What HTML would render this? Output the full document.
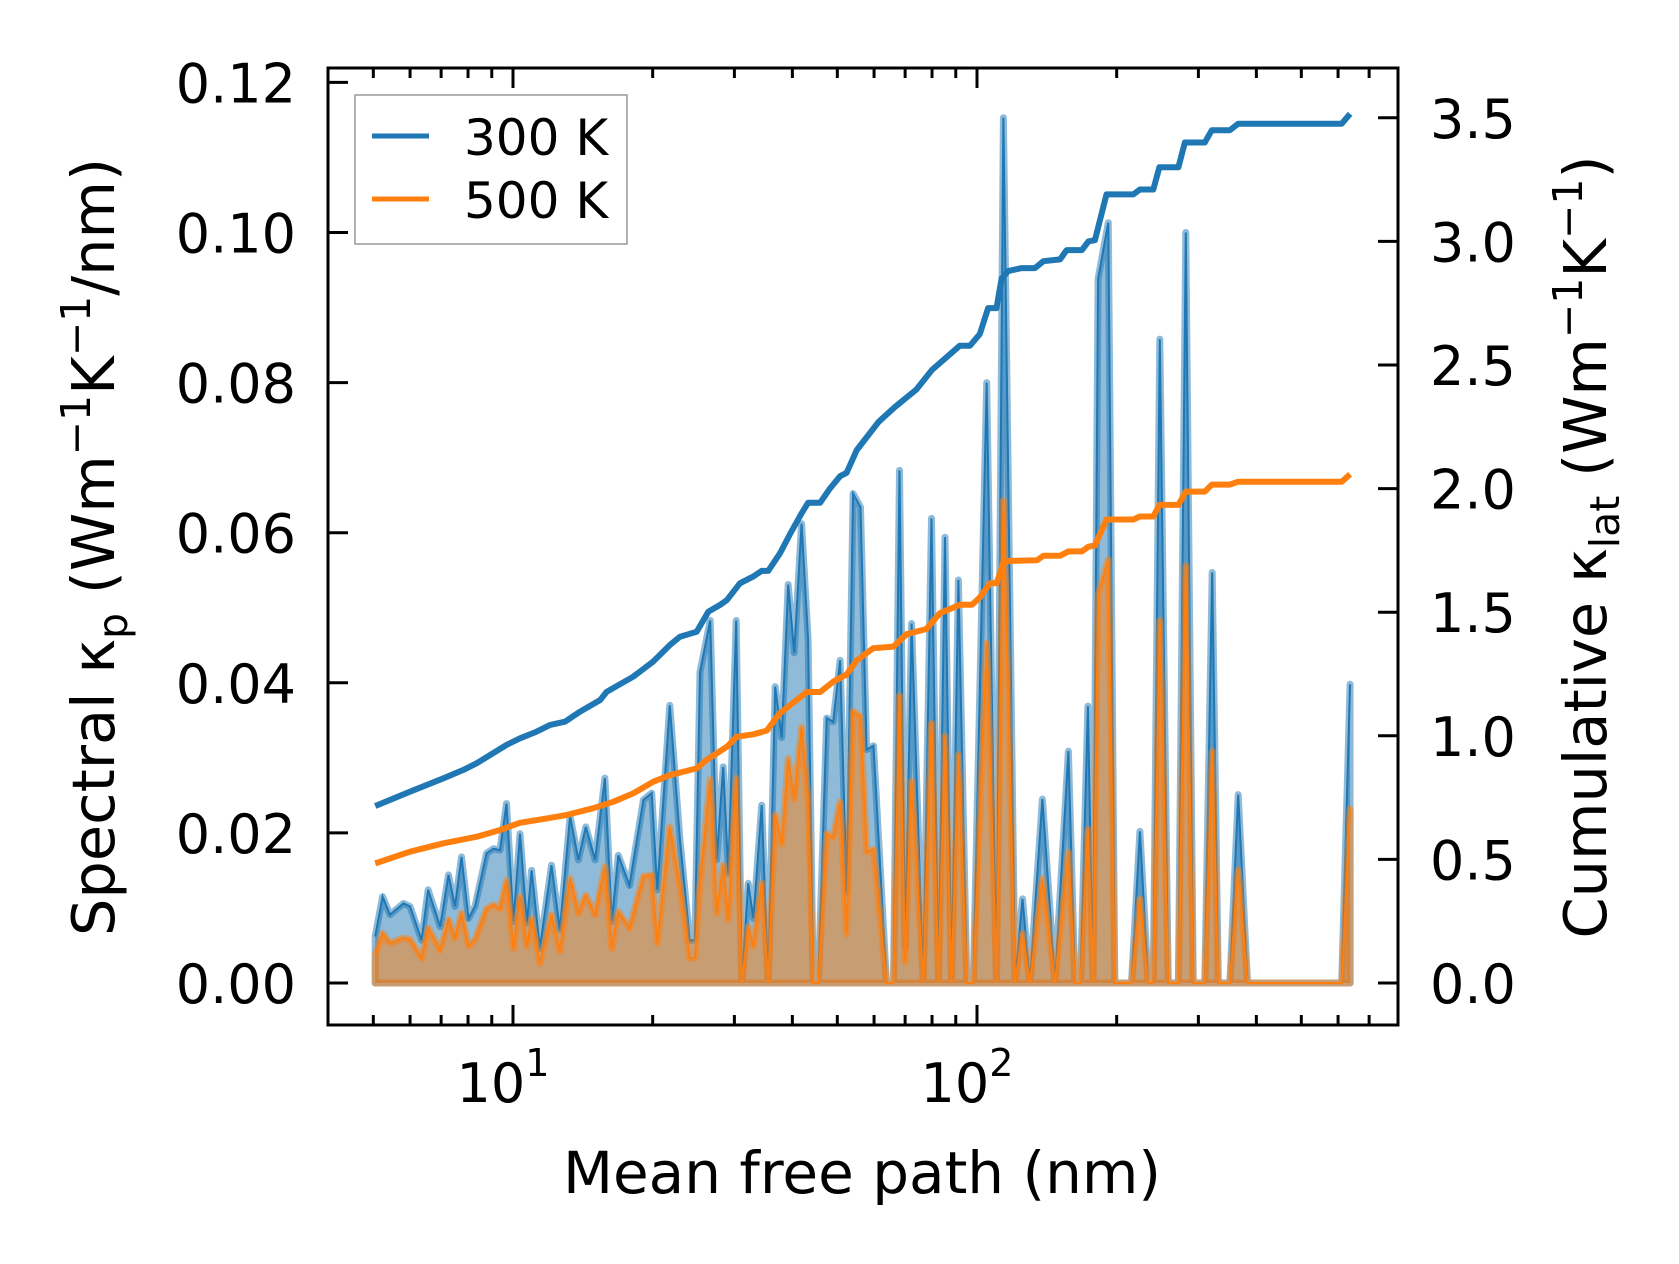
<!DOCTYPE html>
<html><head><meta charset="utf-8"><style>
html,body{margin:0;padding:0;background:#fff;}
svg{display:block;font-family:"DejaVu Sans","Liberation Sans",sans-serif;}
</style></head><body>
<svg id="chart" width="1679" height="1264" viewBox="0 0 1679 1264" xmlns="http://www.w3.org/2000/svg">
<rect x="0" y="0" width="1679" height="1264" fill="#fff"/>
<g id="marks"></g>
<g id="axes"></g>
<text x="862" y="1193" font-size="58" text-anchor="middle">Mean free path (nm)</text>
<text transform="translate(114,547) rotate(-90)" font-size="59" text-anchor="middle">Spectral κ<tspan font-size="41" dy="13">p</tspan><tspan dy="-13"> (Wm</tspan><tspan font-size="41" dy="-24">−1</tspan><tspan dy="24">K</tspan><tspan font-size="41" dy="-24">−1</tspan><tspan dy="24">/nm)</tspan></text>
<text transform="translate(1606,547) rotate(-90)" font-size="59" text-anchor="middle">Cumulative κ<tspan font-size="41" dy="13">lat</tspan><tspan dy="-13"> (Wm</tspan><tspan font-size="41" dy="-24">−1</tspan><tspan dy="24">K</tspan><tspan font-size="41" dy="-24">−1</tspan><tspan dy="24">)</tspan></text>
<g>
<rect x="355" y="95" width="272" height="149" fill="#fff" stroke="#999" stroke-width="1.5"/>
<g>
<line x1="372" y1="136" x2="429" y2="136" stroke="#1f77b4" stroke-width="5"/>
<text x="464" y="155" font-size="50">300 K</text></g>
<g>
<line x1="372" y1="199" x2="429" y2="199" stroke="#ff7f0e" stroke-width="5"/>
<text x="464" y="218" font-size="50">500 K</text></g>
</g>
</svg>
<script>
// log10 of mean free path (nm) for spectral samples
const logMfp = [0.703,0.719,0.735,0.764,0.778,0.803,0.817,0.843,0.861,0.875,0.889,0.904,0.918,0.943,0.958,0.972,0.986,1.001,1.015,1.030,1.040,1.058,1.083,1.101,1.123,1.141,1.157,1.177,1.198,1.213,1.227,1.251,1.281,1.299,1.311,1.338,1.360,1.381,1.392,1.403,1.425,1.439,1.453,1.464,1.481,1.493,1.507,1.518,1.536,1.550,1.565,1.579,1.593,1.606,1.622,1.636,1.647,1.658,1.676,1.690,1.705,1.719,1.733,1.749,1.762,1.777,1.805,1.820,1.833,1.845,1.859,1.884,1.902,1.917,1.931,1.945,1.960,1.978,1.992,2.021,2.042,2.057,2.082,2.098,2.114,2.141,2.168,2.197,2.211,2.223,2.239,2.250,2.261,2.283,2.297,2.333,2.351,2.369,2.380,2.394,2.412,2.434,2.450,2.466,2.491,2.507,2.520,2.545,2.563,2.583,2.786,2.804];
const spec300 = [0.0062,0.0115,0.0091,0.0106,0.0102,0.0057,0.0124,0.0075,0.0144,0.0102,0.0168,0.0086,0.0102,0.0173,0.0179,0.0177,0.0239,0.0082,0.0199,0.0080,0.0150,0.0046,0.0157,0.0071,0.0222,0.0164,0.0208,0.0164,0.0273,0.0082,0.0170,0.0130,0.0244,0.0253,0.0124,0.0370,0.0190,0.0057,0.0057,0.0414,0.0483,0.0164,0.0288,0.0146,0.0483,0,0.0133,0.0086,0.0237,0,0.0395,0.0327,0.0531,0.0440,0.0612,0.0458,0,0,0.0353,0.0348,0.0430,0.0121,0.0652,0.0634,0.0311,0.0316,0,0,0.0683,0.0047,0.0479,0,0.0619,0,0.0594,0,0.0537,0,0,0.0800,0,0.1153,0,0.0112,0,0.0245,0,0.0309,0,0,0.0369,0,0.0938,0.1013,0,0,0.0202,0,0,0.0858,0,0,0.1000,0,0,0.0547,0,0,0.0251,0,0,0.0398];
const spec500 = [0.0037,0.0066,0.0053,0.0060,0.0058,0.0033,0.0073,0.0044,0.0084,0.0060,0.0093,0.0049,0.0058,0.0099,0.0104,0.0099,0.0137,0.0046,0.0115,0.0049,0.0086,0.0026,0.0091,0.0042,0.0139,0.0093,0.0117,0.0091,0.0155,0.0046,0.0095,0.0073,0.0142,0.0144,0.0053,0.0208,0.0128,0.0033,0.0033,0.0133,0.0271,0.0093,0.0157,0.0084,0.0273,0,0.0075,0.0049,0.0133,0,0.0224,0.0185,0.0299,0.0245,0.0341,0.0243,0,0,0.0199,0.0194,0.0241,0.0065,0.0362,0.0355,0.0175,0.0178,0,0,0.0383,0.0028,0.0269,0,0.0346,0,0.0329,0,0.0304,0,0,0.0453,0,0.0643,0,0.0066,0,0.0139,0,0.0174,0,0,0.0205,0,0.0517,0.0564,0,0,0.0112,0,0,0.0483,0,0,0.0556,0,0,0.0309,0,0,0.0151,0,0,0.0232];
// cumulative kappa, 300 K
const cumLog300 = [0.703,0.778,0.850,0.893,0.922,0.986,1.015,1.051,1.080,1.112,1.144,1.188,1.202,1.259,1.302,1.338,1.360,1.396,1.421,1.446,1.461,1.489,1.518,1.536,1.550,1.575,1.597,1.622,1.636,1.662,1.683,1.705,1.719,1.741,1.788,1.823,1.869,1.903,1.963,1.985,2.006,2.024,2.042,2.053,2.067,2.096,2.125,2.143,2.179,2.193,2.226,2.240,2.254,2.279,2.337,2.351,2.380,2.393,2.434,2.448,2.491,2.506,2.545,2.563,2.786,2.804];
const cum300 = [0.716,0.774,0.828,0.862,0.889,0.963,0.990,1.017,1.044,1.057,1.097,1.145,1.178,1.239,1.300,1.367,1.401,1.421,1.502,1.529,1.549,1.617,1.645,1.667,1.667,1.737,1.816,1.900,1.943,1.943,2.000,2.050,2.064,2.156,2.270,2.330,2.400,2.480,2.578,2.578,2.625,2.730,2.730,2.850,2.880,2.892,2.892,2.920,2.927,2.965,2.965,3.000,3.005,3.190,3.190,3.210,3.210,3.300,3.300,3.400,3.400,3.450,3.450,3.476,3.476,3.516];
// cumulative kappa, 500 K
const cumLog500 = [0.703,0.778,0.850,0.922,0.972,1.015,1.073,1.116,1.173,1.216,1.259,1.302,1.338,1.396,1.417,1.461,1.482,1.518,1.547,1.575,1.604,1.633,1.662,1.690,1.719,1.741,1.776,1.820,1.848,1.891,1.920,1.963,1.989,2.006,2.028,2.042,2.057,2.067,2.129,2.143,2.179,2.197,2.226,2.240,2.254,2.279,2.337,2.351,2.380,2.393,2.434,2.450,2.491,2.506,2.545,2.563,2.786,2.804];
const cum500 = [0.484,0.531,0.565,0.592,0.619,0.648,0.666,0.680,0.707,0.733,0.767,0.814,0.841,0.868,0.902,0.956,0.996,1.006,1.021,1.091,1.134,1.177,1.177,1.219,1.248,1.305,1.354,1.361,1.411,1.432,1.496,1.530,1.530,1.560,1.617,1.617,1.700,1.707,1.710,1.728,1.728,1.746,1.746,1.765,1.770,1.875,1.875,1.887,1.887,1.934,1.934,1.988,1.988,2.016,2.016,2.028,2.028,2.058];
const leftTicks = [0,0.02,0.04,0.06,0.08,0.10,0.12];
const leftTickLabels = ["0.00","0.02","0.04","0.06","0.08","0.10","0.12"];
const rightTicks = [0,0.5,1,1.5,2,2.5,3,3.5];
const rightTickLabels = ["0.0","0.5","1.0","1.5","2.0","2.5","3.0","3.5"];
const xMajorTicks = [10,100];
const xMajorExp = ["1","2"];

const NS = "http://www.w3.org/2000/svg";
const L = 328, R = 1398, T = 68, B = 1025;
const X0 = 513, DEC = 464;
const xl = lg => X0 + (lg - 1) * DEC;
const x = v => xl(Math.log10(v));
const yL = v => 983 - v / 0.02 * 150.1;
const yR = v => 983 - v / 0.5 * 123.6;
const marks = document.getElementById('marks');
const axes = document.getElementById('axes');
function mk(tag, parent, attrs) { const e = document.createElementNS(NS, tag); for (const k in attrs) e.setAttribute(k, attrs[k]); parent.appendChild(e); return e; }

function areaPath(vals) {
  let d = 'M' + xl(logMfp[0]).toFixed(1) + ',' + yL(0).toFixed(1);
  for (let i = 0; i < logMfp.length; i++) d += 'L' + xl(logMfp[i]).toFixed(1) + ',' + yL(vals[i]).toFixed(1);
  d += 'L' + xl(logMfp[logMfp.length - 1]).toFixed(1) + ',' + yL(0).toFixed(1) + 'Z';
  return d;
}
function linePath(xs, ys, fy) {
  let d = '';
  for (let i = 0; i < xs.length; i++) d += (i ? 'L' : 'M') + xl(xs[i]).toFixed(1) + ',' + fy(ys[i]).toFixed(1);
  return d;
}
const a300 = mk('path', marks, {d: areaPath(spec300), fill: '#1f77b4', 'fill-opacity': 0.5, stroke: '#1f77b4', 'stroke-opacity': 0.5, 'stroke-width': 7, 'stroke-linejoin': 'round'});


const l300 = mk('path', marks, {d: linePath(logMfp, spec300, yL), fill: 'none', stroke: '#1f77b4', 'stroke-width': 2});


const a500 = mk('path', marks, {d: areaPath(spec500), fill: '#ff7f0e', 'fill-opacity': 0.5, stroke: '#ff7f0e', 'stroke-opacity': 0.5, 'stroke-width': 7, 'stroke-linejoin': 'round'});


const l500 = mk('path', marks, {d: linePath(logMfp, spec500, yL), fill: 'none', stroke: '#ff7f0e', 'stroke-width': 2});


const c300 = mk('path', marks, {d: linePath(cumLog300, cum300, yR), fill: 'none', stroke: '#1f77b4', 'stroke-width': 6, 'stroke-linejoin': 'round'});


const c500 = mk('path', marks, {d: linePath(cumLog500, cum500, yR), fill: 'none', stroke: '#ff7f0e', 'stroke-width': 6, 'stroke-linejoin': 'round'});



// ticks
const tk = (x1, y1, x2, y2, name) => { const e = mk('line', axes, {x1, y1, x2, y2, stroke: '#000', 'stroke-width': 3});   };
leftTicks.forEach((v, i) => {
  tk(L, yL(v), L + 20, yL(v), 'left-y-tick');
  const t = mk('text', axes, {x: 296, y: yL(v) + 20, 'font-size': 54, 'text-anchor': 'end'});
  t.textContent = leftTickLabels[i];
  
  
});
rightTicks.forEach((v, i) => {
  tk(R - 20, yR(v), R, yR(v), 'right-y-tick');
  const t = mk('text', axes, {x: 1430, y: yR(v) + 20, 'font-size': 54});
  t.textContent = rightTickLabels[i];
  
  
});
xMajorTicks.forEach((v, i) => {
  const px = x(v);
  tk(px, B, px, B - 20, 'x-major-tick');
  tk(px, T, px, T + 20, 'x-major-tick-top');
  const t = mk('text', axes, {x: px - 10, y: 1102, 'font-size': 54, 'text-anchor': 'middle'});
  t.textContent = '10';
  const s = document.createElementNS(NS, 'tspan');
  s.setAttribute('font-size', 38); s.setAttribute('dy', -26); s.textContent = xMajorExp[i];
  t.appendChild(s);
  
  
});
[1, 10, 100].forEach(dec => {
  for (let m = 2; m <= 9; m++) {
    const px = x(dec * m);
    if (px < L + 2 || px > R - 2) continue;
    tk(px, B, px, B - 10, 'x-minor-tick');
    tk(px, T, px, T + 10, 'x-minor-tick-top');
  }
});
const frame = mk('rect', axes, {x: L, y: T, width: R - L, height: B - T, fill: 'none', stroke: '#000', 'stroke-width': 3});


</script>
</body></html>
